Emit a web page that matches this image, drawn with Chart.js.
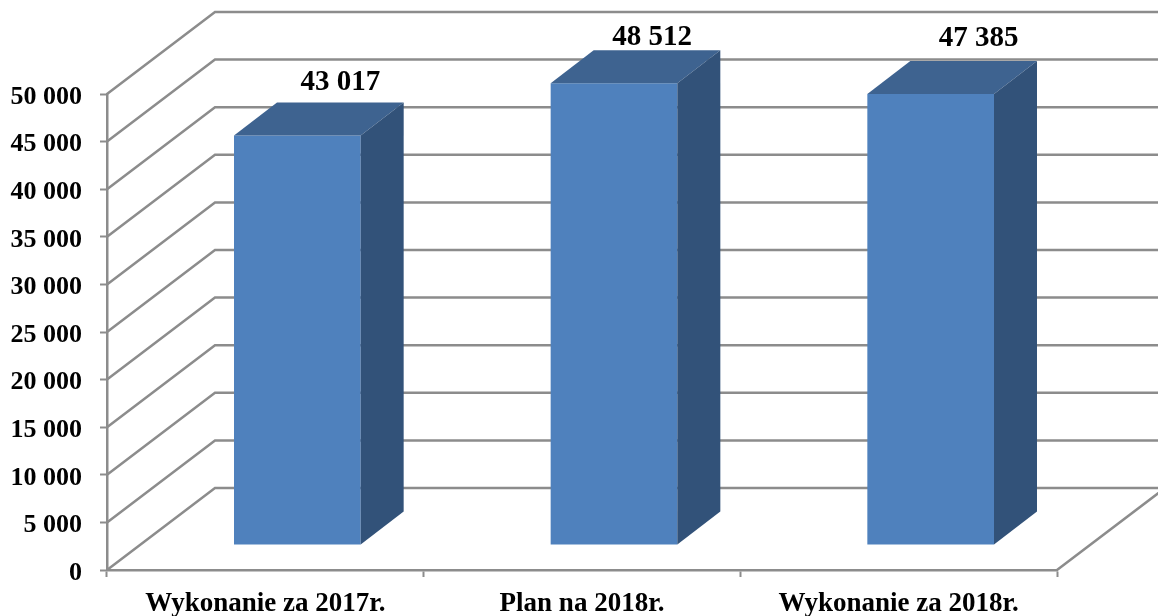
<!DOCTYPE html>
<html lang="pl">
<head>
<meta charset="utf-8">
<title>Wykonanie i plan</title>
<style>
    html, body { margin: 0; padding: 0; background: #ffffff; }
    canvas { display: block; }
</style>
<script src="https://cdn.jsdelivr.net/npm/chart.js@4"></script>
</head>
<body>
<canvas id="grafico" width="1158" height="616"></canvas>
<script>
// Data
const categories = ['Wykonanie za 2017r.', 'Plan na 2018r.', 'Wykonanie za 2018r.'];
const values = [43017, 48512, 47385];
const axisMin = 0;
const axisMax = 50000;
const axisStep = 5000;

// Fake 3D look: wall depth, bar offset from the axis plane, bar depth
const wallDepth = { x: 108, y: 82 };
const barShift = { x: 32, y: 25 };
const barDepth = { x: 43, y: 33 };
// Value labels were placed by hand in the original
const labelShift = [{ x: 43, y: -53 }, { x: 38, y: -46 }, { x: 48, y: -55 }];

const gridColor = '#8c8c8c';
const fontFamily = '"Liberation Serif", "Times New Roman", serif';

const conSeparador = (v) => String(v).replace(/\B(?=(\d{3})+$)/g, ' ');

function face(ctx, color, pts) {
    ctx.fillStyle = color;
    ctx.beginPath();
    pts.forEach((p, i) => (i ? ctx.lineTo(p[0], p[1]) : ctx.moveTo(p[0], p[1])));
    ctx.closePath();
    ctx.fill();
}

const fake3d = {
    id: 'fake3d',
    // Digits sit a bit high with a middle baseline, push them down
    beforeDraw(chart) {
        chart.scales.y.getLabelItems().forEach((item) => { item.textOffset += 3; });
    },
    // Back wall gridlines and the diagonals going to them
    beforeDatasetsDraw(chart) {
        const { ctx, scales: { x, y } } = chart;
        ctx.save();
        ctx.strokeStyle = gridColor;
        ctx.lineWidth = 2.5;
        ctx.beginPath();
        y.ticks.forEach((t) => {
            const py = y.getPixelForValue(t.value);
            ctx.moveTo(x.left, py);
            ctx.lineTo(x.left + wallDepth.x, py - wallDepth.y);
            ctx.lineTo(x.right + wallDepth.x, py - wallDepth.y);
        });
        ctx.moveTo(x.right, y.bottom);
        ctx.lineTo(x.right + wallDepth.x, y.bottom - wallDepth.y);
        ctx.stroke();
        ctx.restore();
    },
    // Moves the real bars back from the axis plane
    beforeDatasetDraw(chart) {
        chart.ctx.save();
        chart.ctx.translate(barShift.x, -barShift.y);
    },
    afterDatasetDraw(chart) {
        const ctx = chart.ctx;
        chart.getDatasetMeta(0).data.forEach((bar) => {
            const left = bar.x - bar.width / 2;
            const right = bar.x + bar.width / 2;
            face(ctx, '#3e6390', [
                [left, bar.y], [right, bar.y],
                [right + barDepth.x, bar.y - barDepth.y], [left + barDepth.x, bar.y - barDepth.y]
            ]);
            face(ctx, '#325279', [
                [right, bar.y], [right + barDepth.x, bar.y - barDepth.y],
                [right + barDepth.x, bar.base - barDepth.y], [right, bar.base]
            ]);
        });
        ctx.restore();
    },
    afterDatasetsDraw(chart) {
        const ctx = chart.ctx;
        ctx.save();
        ctx.fillStyle = '#000000';
        ctx.font = 'bold 29px ' + fontFamily;
        ctx.textAlign = 'center';
        ctx.textBaseline = 'middle';
        chart.getDatasetMeta(0).data.forEach((bar, i) => {
            ctx.fillText(
                conSeparador(values[i]),
                bar.x + barShift.x + labelShift[i].x,
                bar.y - barShift.y + labelShift[i].y
            );
        });
        ctx.restore();
    }
};

new Chart(document.getElementById('grafico'), {
    type: 'bar',
    data: {
        labels: categories,
        datasets: [{
            data: values,
            backgroundColor: '#4f81bd',
            borderWidth: 0,
            barPercentage: 1,
            categoryPercentage: 0.4,
            clip: false
        }]
    },
    options: {
        responsive: false,
        animation: false,
        layout: { padding: { top: 94, right: 101, left: 0, bottom: 0 } },
        plugins: { legend: { display: false }, tooltip: { enabled: false } },
        scales: {
            x: {
                afterFit: (scale) => { scale.height = 46; },
                grid: { drawOnChartArea: false, tickLength: 7, tickWidth: 2, tickColor: gridColor },
                border: { color: gridColor, width: 2.5 },
                ticks: {
                    color: '#000000',
                    padding: 11,
                    maxRotation: 0,
                    font: { family: fontFamily, size: 27, weight: 'bold' }
                }
            },
            y: {
                min: axisMin,
                max: axisMax,
                afterFit: (scale) => { scale.width = 107; },
                grid: { drawOnChartArea: false, tickLength: 7, tickWidth: 2, tickColor: gridColor },
                border: { color: gridColor, width: 2.5 },
                ticks: {
                    stepSize: axisStep,
                    color: '#000000',
                    padding: 18,
                    callback: (v) => conSeparador(v),
                    font: { family: fontFamily, size: 26, weight: 'bold' }
                }
            }
        }
    },
    plugins: [fake3d]
});
</script>
</body>
</html>
